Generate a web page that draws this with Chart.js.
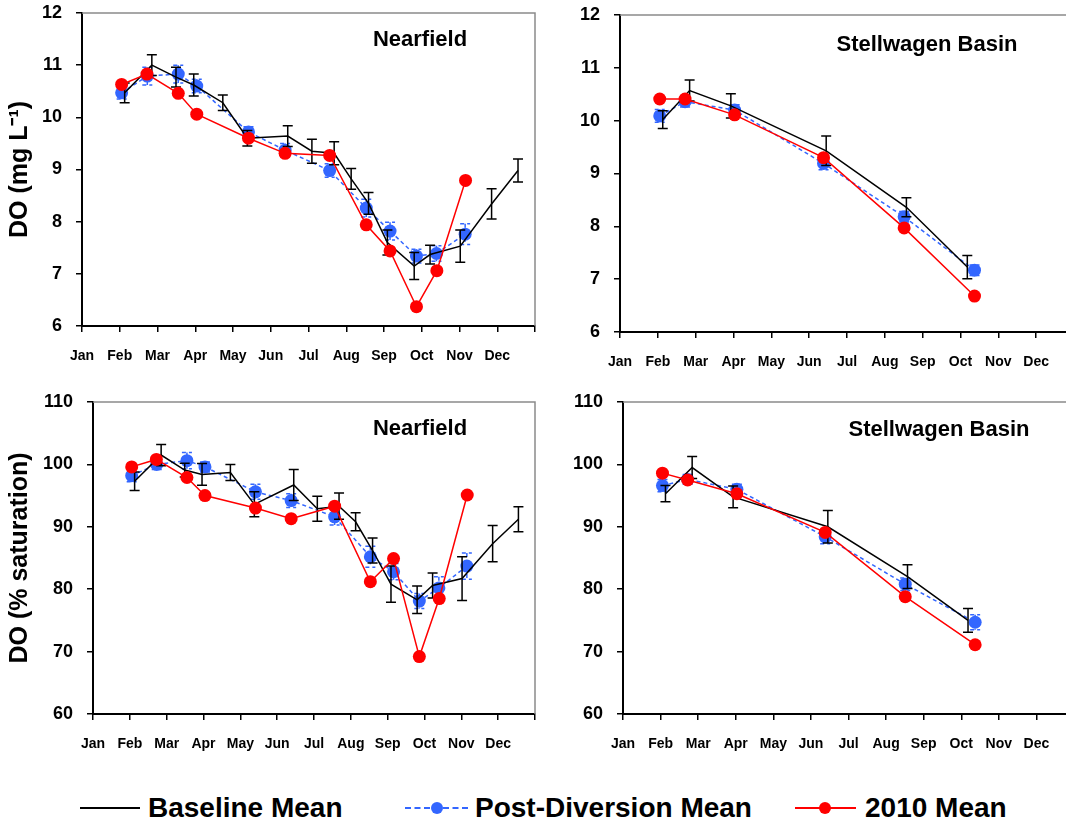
<!DOCTYPE html>
<html>
<head>
<meta charset="utf-8">
<script src="https://cdn.jsdelivr.net/npm/chart.js@4.4.1/dist/chart.umd.min.js"></script>
<style>
  html, body { margin: 0; padding: 0; background: #fff; overflow: hidden; width: 1066px; height: 824px; }
  body { position: relative; font-family: "Liberation Sans", Arial, sans-serif; }
  canvas { position: absolute; }
  .ptitle { position: absolute; font-weight: bold; font-size: 22px; line-height: 22px; white-space: nowrap; transform: translateX(-50%); color: #000; }
  .ltxt { position: absolute; font-weight: bold; font-size: 28px; line-height: 28px; white-space: nowrap; top: 794px; color: #000; }
  .lline { position: absolute; height: 2px; top: 807px; }
  .ldot { position: absolute; width: 12px; height: 12px; border-radius: 50%; top: 802px; }
</style>
</head>
<body>
<canvas id="nfMg" width="545" height="380" style="left:0;top:0"></canvas>
<canvas id="sbMg" width="540" height="380" style="left:545px;top:0"></canvas>
<canvas id="nfSat" width="545" height="390" style="left:0;top:380px"></canvas>
<canvas id="sbSat" width="540" height="390" style="left:545px;top:380px"></canvas>

<div class="ptitle" style="left:420px;top:28px">Nearfield</div>
<div class="ptitle" style="left:927px;top:33px">Stellwagen Basin</div>
<div class="ptitle" style="left:420px;top:417px">Nearfield</div>
<div class="ptitle" style="left:939px;top:418px">Stellwagen Basin</div>

<div class="lline" style="left:80px;width:60px;background:#000"></div>
<div class="ltxt" style="left:148px">Baseline Mean</div>
<div class="lline" style="left:405px;width:63px;height:0;border-top:2px dashed #3366ff"></div>
<div class="ldot" style="left:431px;background:#3366ff"></div>
<div class="ltxt" style="left:475px">Post-Diversion Mean</div>
<div class="lline" style="left:795px;width:61px;background:#ff0000"></div>
<div class="ldot" style="left:819px;background:#ff0000"></div>
<div class="ltxt" style="left:865px">2010 Mean</div>

<script>
// x = month position (0 = start of Jan, 12 = end of Dec)
const monthLabels = ['Jan', 'Feb', 'Mar', 'Apr', 'May', 'Jun', 'Jul', 'Aug', 'Sep', 'Oct', 'Nov', 'Dec'];

// Nearfield
const nfBaseX = [1.13, 1.85, 2.49, 2.96, 3.73, 4.38, 5.45, 6.09, 6.68, 7.13, 7.59, 8.09, 8.80, 9.22, 10.02, 10.85, 11.55];
const nfPostX = [1.05, 1.73, 2.55, 3.04, 4.41, 5.38, 6.56, 7.53, 8.16, 8.86, 9.39, 10.15];
const nf2010X = [1.05, 1.72, 2.55, 3.04, 4.41, 5.38, 6.56, 7.53, 8.16, 8.86, 9.40, 10.16];

const nfBaseMg = [10.47, 11.0, 10.77, 10.62, 10.28, 9.6, 9.64, 9.35, 9.31, 8.82, 8.35, 7.6, 7.15, 7.37, 7.53, 8.34, 8.98];
const nfBaseMgErr = [0.19, 0.2, 0.19, 0.21, 0.15, 0.15, 0.2, 0.23, 0.22, 0.2, 0.21, 0.24, 0.26, 0.18, 0.31, 0.29, 0.22];
const nfPostMg = [10.47, 10.79, 10.83, 10.60, 9.72, 9.37, 8.98, 8.26, 7.82, 7.34, 7.39, 7.76];
const nfPostMgErr = [0.12, 0.17, 0.17, 0.13, 0.1, 0.13, 0.13, 0.17, 0.17, 0.13, 0.15, 0.2];
const nf2010Mg = [10.63, 10.83, 10.46, 10.06, 9.60, 9.31, 9.27, 7.94, 7.44, 6.37, 7.06, 8.79];

const nfBaseSat = [97.3, 101.5, 99.1, 98.4, 98.7, 93.6, 96.7, 92.9, 93.3, 90.8, 86.2, 80.8, 78.3, 80.6, 81.7, 87.3, 91.2];
const nfBaseSatErr = [1.5, 1.7, 1.1, 1.75, 1.3, 2.0, 2.5, 2.0, 2.1, 1.45, 2.0, 2.9, 2.2, 2.0, 3.5, 2.9, 2.0];
const nfPostSat = [98.2, 100.0, 100.6, 99.6, 95.6, 94.2, 91.6, 85.2, 82.8, 78.1, 80.2, 83.7];
const nfPostSatErr = [1.0, 0.8, 1.3, 0.8, 1.2, 1.1, 1.3, 1.7, 1.3, 1.2, 1.8, 2.1];
const nf2010Sat = [99.6, 100.8, 97.9, 95.0, 93.0, 91.3, 93.3, 81.2, 84.9, 69.2, 78.5, 95.1];

// Stellwagen Basin
const sbBaseX = [1.13, 1.84, 2.93, 5.45, 7.57, 9.18];
const sbPostX = [1.05, 1.72, 3.03, 5.38, 7.51, 9.37];
const sb2010X = [1.05, 1.72, 3.03, 5.38, 7.51, 9.37];

const sbBaseMg = [10.02, 10.57, 10.28, 9.43, 8.36, 7.23];
const sbBaseMgErr = [0.17, 0.2, 0.23, 0.28, 0.18, 0.22];
const sbPostMg = [10.09, 10.36, 10.20, 9.19, 8.18, 7.17];
const sbPostMgErr = [0.12, 0.1, 0.1, 0.12, 0.1, 0.1];
const sb2010Mg = [10.41, 10.41, 10.11, 9.30, 7.97, 6.68];

const sbBaseSat = [95.3, 99.5, 94.8, 90.0, 82.0, 75.0];
const sbBaseSatErr = [1.3, 1.75, 1.75, 2.6, 1.9, 1.9];
const sbPostSat = [96.6, 97.6, 96.0, 88.4, 80.8, 74.7];
const sbPostSatErr = [1.0, 0.8, 0.8, 1.1, 1.0, 1.2];
const sb2010Sat = [98.6, 97.5, 95.3, 89.1, 78.8, 71.1];

const FONT = '"Liberation Sans", Arial, sans-serif';
const BLUE = '#3366ff';
const RED = '#ff0000';

function pts(xs, ys) { return xs.map((x, i) => ({ x: x, y: ys[i] })); }

// error bars, drawn just before each dataset so the markers sit on top
const errorBars = {
  id: 'errorBars',
  beforeDatasetDraw(chart, args) {
    const ds = chart.data.datasets[args.index];
    if (!ds.errors) return;
    const { ctx, scales: { x, y } } = chart;
    ctx.save();
    ctx.strokeStyle = ds.borderColor;
    ctx.lineWidth = 1.5;
    ctx.setLineDash(ds.borderDash || []);
    ds.data.forEach((p, i) => {
      const px = x.getPixelForValue(p.x);
      const top = y.getPixelForValue(p.y + ds.errors[i]);
      const bot = y.getPixelForValue(p.y - ds.errors[i]);
      ctx.beginPath();
      ctx.moveTo(px, top); ctx.lineTo(px, bot);
      ctx.moveTo(px - 5, top); ctx.lineTo(px + 5, top);
      ctx.moveTo(px - 5, bot); ctx.lineTo(px + 5, bot);
      ctx.stroke();
    });
    ctx.restore();
  }
};

// grey top + right frame of the plot area
const frame = {
  id: 'frame',
  beforeDatasetsDraw(chart) {
    const { ctx, chartArea: a } = chart;
    ctx.save();
    ctx.strokeStyle = '#8a8a8a';
    ctx.lineWidth = 1.5;
    ctx.beginPath();
    ctx.moveTo(a.left, a.top); ctx.lineTo(a.right, a.top); ctx.lineTo(a.right, a.bottom);
    ctx.stroke();
    ctx.restore();
  }
};

// fixed axis sizes; drop the label overhang padding so the plot box lands where we want it
function fixSize(s, w, h) {
  if (w != null) s.width = w;
  if (h != null) s.height = h;
  s.paddingLeft = 0; s.paddingRight = 0; s.paddingTop = 0; s.paddingBottom = 0;
}

function makePanel(id, o) {
  return new Chart(document.getElementById(id), {
    type: 'line',
    data: {
      datasets: [
        { label: '2010 Mean', data: pts(o.redX, o.red), borderColor: RED, backgroundColor: RED,
          borderWidth: 1.5, pointRadius: 6.5, pointBorderWidth: 0, order: 0 },
        { label: 'Baseline Mean', data: pts(o.baseX, o.base), errors: o.baseErr, borderColor: '#000',
          borderWidth: 1.5, pointRadius: 0, order: 1 },
        { label: 'Post-Diversion Mean', data: pts(o.postX, o.post), errors: o.postErr, borderColor: BLUE,
          backgroundColor: BLUE, borderDash: [4, 3], borderWidth: 1.5, pointRadius: 6.5, pointBorderWidth: 0, order: 2 }
      ]
    },
    options: {
      responsive: false,
      animation: false,
      devicePixelRatio: 1,
      layout: { padding: { top: o.padTop, right: o.padRight, left: 0, bottom: 0 } },
      plugins: { legend: { display: false }, tooltip: { enabled: false } },
      elements: { line: { tension: 0 } },
      scales: {
        x: {
          type: 'linear', min: 0, max: 12,
          afterFit: s => fixSize(s, null, o.xHeight),
          border: { display: true, color: '#000', width: 2 },
          grid: { drawOnChartArea: false, drawTicks: true, tickLength: 6, color: '#000', lineWidth: 1.5 },
          ticks: {
            stepSize: 1, autoSkip: false, maxRotation: 0, padding: 16, color: '#000',
            font: { family: FONT, size: 14, weight: 'bold' },
            callback: v => monthLabels[v] || ''
          }
        },
        y: {
          min: o.yMin, max: o.yMax,
          afterFit: s => fixSize(s, o.yWidth, null),
          border: { display: true, color: '#000', width: 2 },
          grid: { drawOnChartArea: false, drawTicks: true, tickLength: 6, color: '#000', lineWidth: 1.5 },
          ticks: { stepSize: o.yStep, padding: 14, color: '#000', font: { family: FONT, size: 18, weight: 'bold' } },
          title: {
            display: !!o.yTitle, text: o.yTitle || '', color: '#000', padding: { top: 5, bottom: 0 },
            font: { family: FONT, size: 25, weight: 'bold' }
          }
        }
      }
    },
    plugins: [frame, errorBars]
  });
}

makePanel('nfMg', {
  baseX: nfBaseX, base: nfBaseMg, baseErr: nfBaseMgErr,
  postX: nfPostX, post: nfPostMg, postErr: nfPostMgErr,
  redX: nf2010X, red: nf2010Mg,
  yMin: 6, yMax: 12, yStep: 1, yTitle: 'DO (mg L\u207B\u00B9)',
  yWidth: 82, xHeight: 54, padTop: 13, padRight: 10
});
makePanel('sbMg', {
  baseX: sbBaseX, base: sbBaseMg, baseErr: sbBaseMgErr,
  postX: sbPostX, post: sbPostMg, postErr: sbPostMgErr,
  redX: sb2010X, red: sb2010Mg,
  yMin: 6, yMax: 12, yStep: 1, yTitle: null,
  yWidth: 75, xHeight: 48, padTop: 15, padRight: 11
});
makePanel('nfSat', {
  baseX: nfBaseX, base: nfBaseSat, baseErr: nfBaseSatErr,
  postX: nfPostX, post: nfPostSat, postErr: nfPostSatErr,
  redX: nf2010X, red: nf2010Sat,
  yMin: 60, yMax: 110, yStep: 10, yTitle: 'DO (% saturation)',
  yWidth: 93, xHeight: 56, padTop: 22, padRight: 10
});
makePanel('sbSat', {
  baseX: sbBaseX, base: sbBaseSat, baseErr: sbBaseSatErr,
  postX: sbPostX, post: sbPostSat, postErr: sbPostSatErr,
  redX: sb2010X, red: sb2010Sat,
  yMin: 60, yMax: 110, yStep: 10, yTitle: null,
  yWidth: 78, xHeight: 56, padTop: 22, padRight: 11
});
</script>
</body>
</html>
